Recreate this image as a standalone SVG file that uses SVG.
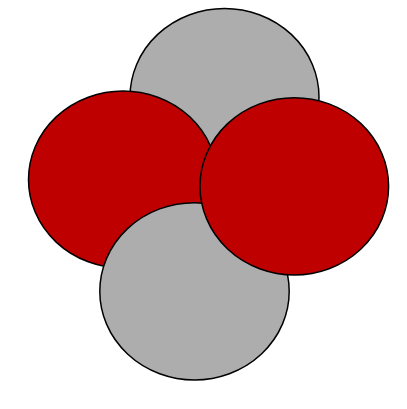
<svg xmlns="http://www.w3.org/2000/svg" width="407" height="409" viewBox="0 0 407 409">
<style>
.gray{fill:#adadad;stroke:#000;stroke-width:1.5}
.red{fill:#bf0000;stroke:#000;stroke-width:1.5}
</style>
<rect width="407" height="409" fill="#fff"/>
<g id="gray-top"><ellipse class="gray" cx="224.5" cy="97" rx="94.5" ry="88.5"/></g>
<g id="red-left"><ellipse class="red" cx="123" cy="179.5" rx="94.5" ry="88.5"/></g>
<g id="gray-bottom"><ellipse class="gray" cx="194.5" cy="291.3" rx="94.7" ry="88.6"/></g>
<g id="red-right"><ellipse class="red" cx="294.3" cy="186.3" rx="94.3" ry="88.6"/></g>
</svg>
